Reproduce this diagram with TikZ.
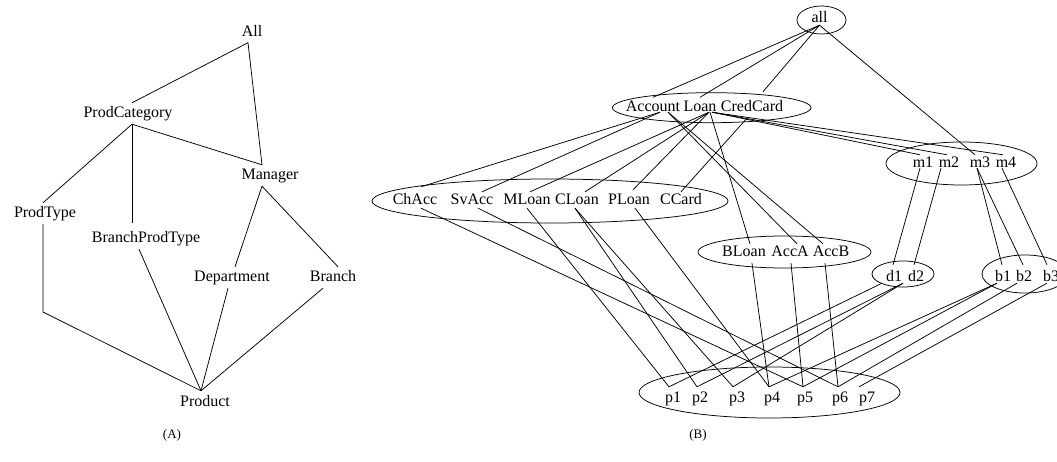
\documentclass[tikz,border=0pt]{standalone}
\usepackage{fontspec}
\setmainfont{Liberation Serif}
\usetikzlibrary{shapes.geometric}
\begin{document}
\begin{tikzpicture}[x=1pt,y=-1pt,
  lbl/.style={font=\fontsize{16}{19}\selectfont, inner sep=0pt, anchor=base},
  schema/.style={lbl, text height=15pt, text depth=6pt},
  toprow/.style={lbl, text height=12pt, text depth=2pt},
  catrow/.style={lbl, text height=14.5pt, text depth=0pt},
  typerow/.style={lbl, text height=13pt, text depth=3pt},
  btyperow/.style={lbl, text height=13pt, text depth=6pt},
  mgrrow/.style={lbl, text height=13pt, text depth=0pt},
  unitrow/.style={lbl, text height=16pt, text depth=2pt},
  prodrow/.style={lbl, text height=15pt, text depth=5pt},
  link/.style={line width=0.75pt},
  grp/.style={ellipse, draw, line width=0.75pt, inner sep=0pt},
  caption/.style={font=\fontsize{13}{15}\selectfont, inner sep=0pt}
]
\useasboundingbox (0,0) rectangle (1057,462);
\clip (0,0) rectangle (1057,462);

% ---------- (A) dimension schema ----------
\node[schema] (All) at (252,36.5) {All};
\node[schema] (ProdCategory) at (128,118) {ProdCategory};
\node[schema] (Manager) at (270,180) {Manager};
\node[schema] (ProdType) at (45,218) {ProdType};
\node[schema] (BranchProdType) at (146,243) {BranchProdType};
\node[schema] (Department) at (232,282) {Department};
\node[schema] (Branch) at (333,282) {Branch};
\node[schema] (Product) at (205,406) {Product};
\coordinate (bend) at (43,312);

\draw[link] ([xshift=-4pt]All.south) -- ([xshift=4pt]ProdCategory.north);
\draw[link] ([xshift=-4pt]All.south) -- ([xshift=-8pt]Manager.north);
\draw[link] ([xshift=4pt]ProdCategory.south) -- ([xshift=-2pt]ProdType.north);
\draw[link] ([xshift=4pt]ProdCategory.south) -- ([xshift=-14pt,yshift=5pt]BranchProdType.north);
\draw[link] ([xshift=4pt]ProdCategory.south) -- ([xshift=-8pt]Manager.north);
\draw[link] ([xshift=-8pt]Manager.south) -- ([xshift=3pt]Department.north);
\draw[link] ([xshift=-8pt]Manager.south) -- ([xshift=5pt]Branch.north);
\draw[link] ([xshift=-2pt]ProdType.south) -- (bend) -- ([xshift=-4pt]Product.north);
\draw[link] ([xshift=-7pt]BranchProdType.south) -- ([xshift=-4pt]Product.north);
\draw[link] ([xshift=-4pt]Department.south) -- ([xshift=-4pt]Product.north);
\draw[link] ([xshift=-10pt]Branch.south) -- ([xshift=-4pt]Product.north);

\node[caption] (capA) at (172,435) {(A)};

% ---------- (B) instance lattice ----------
% group outlines
\node[grp, minimum width=49pt, minimum height=28pt] (allE) at (821.5,20) {};
\node[grp, minimum width=198.6pt, minimum height=30pt] (catE) at (711.7,107.7) {};
\node[grp, minimum width=356pt, minimum height=44pt] (typeE) at (550,201) {};
\node[grp, minimum width=173pt, minimum height=32pt] (btypeE) at (784.5,252) {};
\node[grp, minimum width=151pt, minimum height=43pt] (mgrE) at (961.5,163.5) {};
\node[grp, minimum width=62pt, minimum height=26pt] (deptE) at (903,274) {};
\node[grp, minimum width=86pt, minimum height=38pt] (brE) at (1025,274) {};
\node[grp, minimum width=261pt, minimum height=51pt] (prodE) at (769.5,392.5) {};

% members
\node[toprow] (all) at (819.5,23) {all};

\node[catrow] (Account) at (653,112) {Account};
\node[catrow] (Loan) at (700,112) {Loan};
\node[catrow] (CredCard) at (752,112) {CredCard};

\node[typerow] (ChAcc) at (415,205) {ChAcc};
\node[typerow] (SvAcc) at (472,205) {SvAcc};
\node[typerow] (MLoan) at (527,205) {MLoan};
\node[typerow] (CLoan) at (577,205) {CLoan};
\node[typerow] (PLoan) at (629,205) {PLoan};
\node[typerow] (CCard) at (681,205) {CCard};

\node[btyperow] (BLoan) at (744,257) {BLoan};
\node[btyperow] (AccA) at (790,257) {AccA};
\node[btyperow] (AccB) at (831,257) {AccB};

\node[mgrrow] (m1) at (923,168) {m1};
\node[mgrrow] (m2) at (949,168) {m2};
\node[mgrrow] (m3) at (980,168) {m3};
\node[mgrrow] (m4) at (1006,168) {m4};

\node[unitrow] (d1) at (894,281) {d1};
\node[unitrow] (d2) at (916,281) {d2};
\node[unitrow] (b1) at (1003,281) {b1};
\node[unitrow] (b2) at (1024,281) {b2};
\node[unitrow] (b3) at (1051,281) {b3};

\node[prodrow] (p1) at (673,402) {p1};
\node[prodrow] (p2) at (700,402) {p2};
\node[prodrow] (p3) at (737,402) {p3};
\node[prodrow] (p4) at (772,402) {p4};
\node[prodrow] (p5) at (805,402) {p5};
\node[prodrow] (p6) at (840,402) {p6};
\node[prodrow] (p7) at (867,402) {p7};

% all -> categories and m3
\draw[link] (all.south) -- (Account.north);
\draw[link] (all.south) -- (Loan.north);
\draw[link] (all.south) -- ([xshift=11pt,yshift=5.5pt]CredCard.north);
\draw[link] (all.south) -- ([xshift=-5pt]m3.north);

% categories -> product types
\draw[link] ([xshift=7pt]Account.south) -- ([xshift=6pt,yshift=5pt]ChAcc.north);
\draw[link] ([xshift=7pt]Account.south) -- ([xshift=10pt]SvAcc.north);
\draw[link] ([xshift=9pt]Loan.south) -- ([xshift=3pt]MLoan.north);
\draw[link] ([xshift=9pt]Loan.south) -- ([xshift=8pt]CLoan.north);
\draw[link] ([xshift=9pt]Loan.south) -- ([xshift=4pt,yshift=2pt]PLoan.north);
\draw[link] ([xshift=-5pt,yshift=-6pt]CredCard.south) -- (CCard.north);

% categories -> branch product types
\draw[link] ([xshift=15pt]Account.south) -- ([xshift=7pt]AccA.north);
\draw[link] ([xshift=15pt]Account.south) -- ([xshift=-8pt]AccB.north);
\draw[link] ([xshift=10pt]Loan.south) -- ([xshift=6pt]BLoan.north);

% categories -> managers
\draw[link] ([xshift=12pt]Loan.south) -- ([xshift=-3pt]m1.north);
\draw[link] ([xshift=12pt]Loan.south) -- ([xshift=-2pt]m2.north);
\draw[link] ([xshift=12pt]Loan.south) -- ([xshift=-3pt]m4.north);

% managers -> departments and branches
\draw[link] ([xshift=-3pt]m1.south) -- ([xshift=-1pt]d1.north);
\draw[link] ([xshift=-8pt]m2.south) -- ([xshift=-2pt]d2.north);
\draw[link] ([xshift=-3pt]m3.south) -- ([xshift=-1pt]b1.north);
\draw[link] ([xshift=-3pt]m3.south) -- ([xshift=-1pt]b2.north);
\draw[link] ([xshift=-4pt]m4.south) -- ([xshift=-4pt]b3.north);

% product types -> products
\draw[link] ([xshift=6pt]ChAcc.south) -- ([xshift=-2pt]p5.north);
\draw[link] ([xshift=6pt]SvAcc.south) -- ([xshift=-2pt]p6.north);
\draw[link] (MLoan.south) -- ([xshift=-4pt]p1.north);
\draw[link] ([xshift=-2pt]CLoan.south) -- ([xshift=-3pt]p2.north);
\draw[link] ([xshift=-2pt]CLoan.south) -- ([xshift=-4pt]p3.north);
\draw[link] ([xshift=6pt]PLoan.south) -- ([xshift=-3pt]p4.north);
\draw[link] ([xshift=8pt]BLoan.south) -- ([xshift=-3pt]p4.north);
\draw[link] ([xshift=1pt]AccA.south) -- ([xshift=-2pt]p5.north);
\draw[link] ([xshift=-6pt]AccB.south) -- ([xshift=-2pt]p6.north);

% departments and branches -> products
\draw[link] ([xshift=-12pt]d1.south) -- ([xshift=-4pt]p1.north);
\draw[link] ([xshift=-13pt]d2.south) -- ([xshift=-3pt]p2.north);
\draw[link] ([xshift=-13pt]d2.south) -- ([xshift=-4pt]p3.north);
\draw[link] ([xshift=-6pt]b1.south) -- ([xshift=-3pt]p4.north);
\draw[link] ([xshift=-6pt]b1.south) -- ([xshift=-2pt]p5.north);
\draw[link] ([xshift=-7pt]b2.south) -- ([xshift=-2pt]p6.north);
\draw[link] ([xshift=-4pt]b3.south) -- ([xshift=-8pt]p7.north);

\node[caption] (capB) at (698,435) {(B)};
\end{tikzpicture}
\end{document}
